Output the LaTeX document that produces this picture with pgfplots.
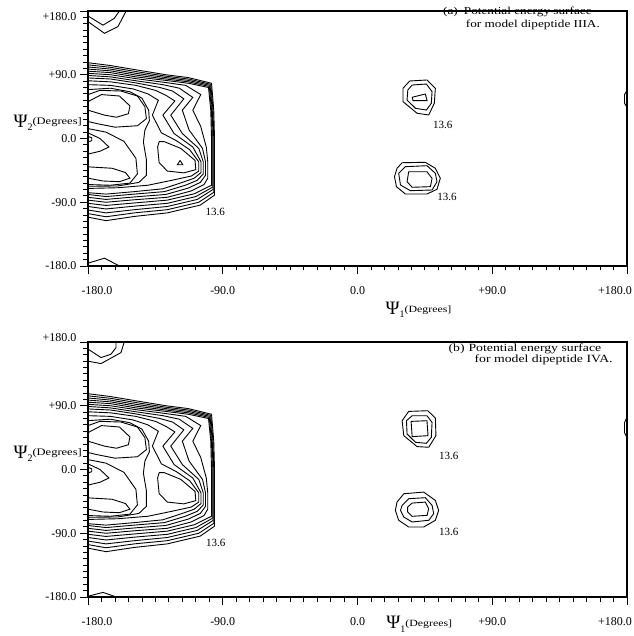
\documentclass[border=0pt]{standalone}
\usepackage{fontspec}
\setmainfont{Liberation Serif}
\newfontfamily\wide[FakeStretch=1.25]{Liberation Serif}
\usepackage{pgfplots}
\pgfplotsset{compat=1.18}

\newcommand{\PsiLab}[3]{{\fontsize{19}{19}\selectfont Ψ}\raisebox{-3.5pt}{\fontsize{10}{10}\selectfont #1}\raisebox{#3}{\wide\fontsize{#2}{#2}\selectfont(Degrees]}}

\pgfplotsset{
  cont/.style={black, line width=0.9pt, mark=none},
  pesaxis/.style={
    scale only axis, width=539pt, height=255pt,
    xmin=-180, xmax=180, ymin=-180, ymax=180,
    xtick={-180,-90,0,90,180}, ytick={-180,-90,0,90,180},
    minor tick num=9,
    tick align=outside, xtick pos=bottom, ytick pos=left,
    major tick length=8pt, minor tick length=4.5pt,
    every tick/.style={black, line width=0.8pt},
    axis line style={black, line width=1.1pt},
    tick label style={font=\fontsize{12}{12}\selectfont},
    xticklabel style={yshift=-9pt},
    xticklabels={\hspace*{18pt}-180.0, -90.0, 0.0, +90.0, +180.0\hspace*{24pt}},
    clip=false,
    xlabel={\PsiLab{1}{9.5}{2pt}},
    ylabel={\PsiLab{2}{10}{3pt}},
    every axis y label/.style={at={(rel axis cs:0,0.545)}, anchor=base west, xshift=-78pt},
  }
}

\newcommand{\Cline}[1]{\addplot[cont] coordinates {#1};}

\newcommand{\MainBlock}{%
\Cline{(-180,107) (-165,103) (-148,97) (-128,90) (-113,86) (-97.5,78) (-96,40) (-95.5,0) (-95.5,-40) (-95.5,-80) (-105,-94) (-127,-105) (-149,-110) (-168,-116) (-180,-111)}
\Cline{(-180,104) (-165,100.5) (-148,94.5) (-128,88) (-113,84) (-98,76.5) (-96.5,40) (-96,0) (-96,-40) (-96,-76) (-106,-90) (-127,-100.5) (-149,-105) (-168,-110.5) (-180,-106)}
\Cline{(-180,101) (-165,98) (-148,92) (-128,86) (-113,82) (-98.5,75) (-97,40) (-96.5,0) (-96.5,-40) (-96.5,-72) (-107,-86) (-127,-96) (-149,-100.5) (-168,-105) (-180,-101)}
\Cline{(-180,98) (-165,95.5) (-148,89.5) (-128,84) (-113,80) (-99,73.5) (-97.5,40) (-97,0) (-97,-40) (-97,-69) (-108,-82) (-127,-91.5) (-149,-95.5) (-168,-99.5) (-180,-96)}
\Cline{(-180,95) (-165,93) (-148,87) (-128,82) (-113,78) (-99.5,72) (-98,40) (-97.5,0) (-97.5,-40) (-97.5,-66) (-109,-78) (-127,-87) (-149,-91) (-168,-94.5) (-180,-91.5)}
\Cline{(-180,92) (-165,90) (-148,84.5) (-128,79) (-114.7,75) (-104.7,62) (-110,40) (-104.7,17) (-101,-12) (-100,-33) (-100,-56) (-102.5,-65) (-111,-74) (-127,-83) (-149,-86.5) (-168,-90) (-180,-87)}
\Cline{(-180,89) (-165,87) (-148,81.5) (-130,76) (-119,71) (-110,58) (-117,40) (-112.5,12) (-103.5,-14) (-101.5,-33) (-101.5,-52) (-105,-62) (-113,-70) (-128,-79) (-149,-82.5) (-168,-86) (-180,-83)}
\Cline{(-180,85.5) (-165,84) (-148,78.5) (-132,72) (-123.5,67) (-116,56) (-124.7,33) (-117,7) (-106,-14) (-103,-33) (-103,-50) (-107,-59) (-115,-66) (-129,-75) (-149,-78.5) (-168,-82) (-180,-79)}
\Cline{(-180,81.5) (-165,80) (-148,75) (-135,68) (-128,61) (-122,53) (-130,33) (-122.5,7) (-110,-12) (-104.5,-33) (-104.5,-48) (-109,-56) (-117,-62) (-130,-71) (-149,-75) (-168,-78.5) (-180,-76.5)}
\Cline{(-180,76) (-165,75) (-150,70) (-140,63) (-133,54) (-137,33) (-131,8) (-121,-3) (-112,-16) (-106,-33) (-106,-46) (-111,-53) (-124,-59) (-140,-66) (-160,-69.5) (-180,-70.5)}
\Cline{(-180,69) (-165,71) (-152,66) (-144,57) (-139.5,40) (-139,25) (-142,12) (-143,-5) (-141,-30) (-141,-52) (-146,-62) (-160,-67) (-180,-67.5)}
\Cline{(-180,62) (-172,68) (-158,67) (-147,60) (-142,45) (-141,28) (-147,18) (-162,16) (-174,21) (-180,24)}
\Cline{(-180,52) (-171,62) (-159,60) (-152,46) (-153,35) (-161,30) (-169,33) (-180,40)}
\Cline{(-132.5,-4.5) (-133.5,-12) (-132.5,-34) (-127,-46) (-116,-48.5) (-108,-44) (-108.5,-31) (-118,-14) (-129,-4.5) (-132.5,-4.5)}
\Cline{(-180,14) (-168,9) (-156,-4) (-148,-28) (-147,-50) (-152,-63) (-165,-66) (-180,-65)}
\Cline{(-180,8) (-172,0) (-166,-12) (-172,-18) (-180,-22)}
\Cline{(-180,3) (-177.5,1) (-177.5,-3) (-180,-5)}
\Cline{(-180,-40) (-164,-42) (-155,-48) (-152,-56) (-159,-61) (-170,-60) (-180,-56)}
}

\begin{document}
\begin{tikzpicture}
\useasboundingbox (-88pt,-370pt) rectangle (545pt,266pt);
% ---------------- top panel (a)
\begin{axis}[pesaxis, at={(0pt,0pt)}, anchor=south west,
  yticklabels={-180.0, -90.0, 0.0, +90.0, \raisebox{-6pt}[\height][0pt]{+180.0}},
  every axis x label/.style={at={(rel axis cs:0.5455,-0.19)}, anchor=base west}]
\MainBlock
\Cline{(-118.5,-31) (-120.3,-37) (-116.7,-37) (-118.5,-31)}
% corners
\Cline{(-180,173) (-170,160) (-162.5,169.5) (-159,180)}
\Cline{(-180,165) (-169,148.5) (-160,158) (-154.5,180)}
\Cline{(-180,-176) (-169,-169) (-159,-180)}
\Cline{(180,68) (178.3,62) (178.3,50) (180,44)}
% upper loops
\Cline{(30.4,70.9) (34.9,81.2) (46.4,82.6) (52,70.9) (51.3,49.7) (47.6,33.2) (39.8,35.6) (30.4,52) (30.4,70.9)}
\Cline{(33.6,68.5) (36.5,75.5) (46,76.9) (49.8,66.1) (49.3,49.7) (46,40.2) (38.7,42.6) (33.1,54.4) (33.6,68.5)}
\Cline{(36.5,58.2) (45.3,62.8) (46.5,53.4) (37.1,53.4) (36.5,58.2)}
% lower loops
\Cline{(26.4,-42.1) (29.8,-34.2) (45.3,-33.6) (52,-42.1) (55.3,-56.2) (53.1,-71.7) (46.4,-78.4) (32,-78.4) (26,-68) (24.7,-53.9) (26.4,-42.1)}
\Cline{(27.5,-49.1) (32,-39.8) (46.4,-38.4) (52,-49.1) (53.1,-61) (49.8,-72.7) (35.3,-73.7) (28.7,-65.6) (27.5,-49.1)}
\Cline{(34.2,-46.9) (46.4,-46.9) (49.8,-56.2) (48.7,-68) (36.5,-68.9) (33.1,-61) (34.2,-46.9)}
\node[font=\fontsize{11}{11}\selectfont] at (axis cs:57,19) {13.6};
\node[font=\fontsize{11}{11}\selectfont] at (axis cs:59.8,-82.2) {13.6};
\node[font=\fontsize{11}{11}\selectfont] at (axis cs:-95,-103.4) {13.6};
\node[anchor=north west, inner sep=0pt, font=\wide\fontsize{10.6}{13.3}\selectfont] at (axis cs:57.1,188.5)
  {\begin{tabular}{@{}l@{\hspace{6pt}}l@{}}(a) & Potential energy surface\\ & \hspace{2pt}for model dipeptide IIIA.\end{tabular}};
\end{axis}
% ---------------- bottom panel (b)
\begin{axis}[pesaxis, at={(0pt,-331pt)}, anchor=south west,
  yticklabels={-180.0, -90.0, 0.0, +90.0, \raisebox{4pt}[\height][0pt]{+180.0}},
  every axis x label/.style={at={(rel axis cs:0.547,-0.125)}, anchor=base west}]
\MainBlock
\Cline{(-180,170) (-171.3,158) (-164.7,162.7) (-161.3,172) (-161.3,180)}
\Cline{(-180,153) (-171.3,149.5) (-158,165) (-155.8,180)}
\Cline{(-180,-179) (-170,-173.5) (-161,-180)}
\Cline{(180,74) (178.3,66) (178.3,52) (180,45)}
\Cline{(29.8,68.9) (34.2,82) (46.9,83) (52,72.7) (52.4,47.8) (47.6,31.4) (39.8,32.3) (30.9,47.8) (29.8,68.9)}
\Cline{(32.7,68.9) (36.5,75.9) (46.4,75.9) (49.8,66.5) (49.3,45.4) (46,37) (38.7,38.4) (33.1,50.2) (32.7,68.9)}
\Cline{(35.8,67.9) (46.4,68.9) (47.1,47.8) (36.5,46.4) (35.8,67.9)}
\Cline{(26.4,-46) (30.9,-34.2) (44.2,-31.9) (52,-43.6) (54.2,-57.7) (52,-71.7) (44.2,-81.2) (34.2,-81.2) (27.5,-71.7) (25.3,-57.7) (26.4,-46)}
\Cline{(29.8,-50.6) (34.2,-41.2) (45.3,-39.8) (49.8,-50.6) (50.9,-62.3) (47.6,-71.7) (36.5,-74.1) (30.9,-67.1) (28.7,-57.7) (29.8,-50.6)}
\Cline{(33.5,-53) (36.5,-47.4) (45.3,-46) (47.5,-55.3) (46.5,-64.7) (36.5,-66.1) (33.5,-60) (33.5,-53)}
\node[font=\fontsize{11}{11}\selectfont] at (axis cs:61,19.7) {13.6};
\node[font=\fontsize{11}{11}\selectfont] at (axis cs:61,-88.2) {13.6};
\node[font=\fontsize{11}{11}\selectfont] at (axis cs:-94.7,-103.6) {13.6};
\node[anchor=north west, inner sep=0pt, font=\wide\fontsize{11}{11}\selectfont] at (axis cs:60.7,177.2)
  {\begin{tabular}{@{}l@{\hspace{4pt}}l@{}}(b) & Potential energy surface\\ & \hspace{6pt}for model dipeptide IVA.\end{tabular}};
\end{axis}
\end{tikzpicture}
\end{document}
